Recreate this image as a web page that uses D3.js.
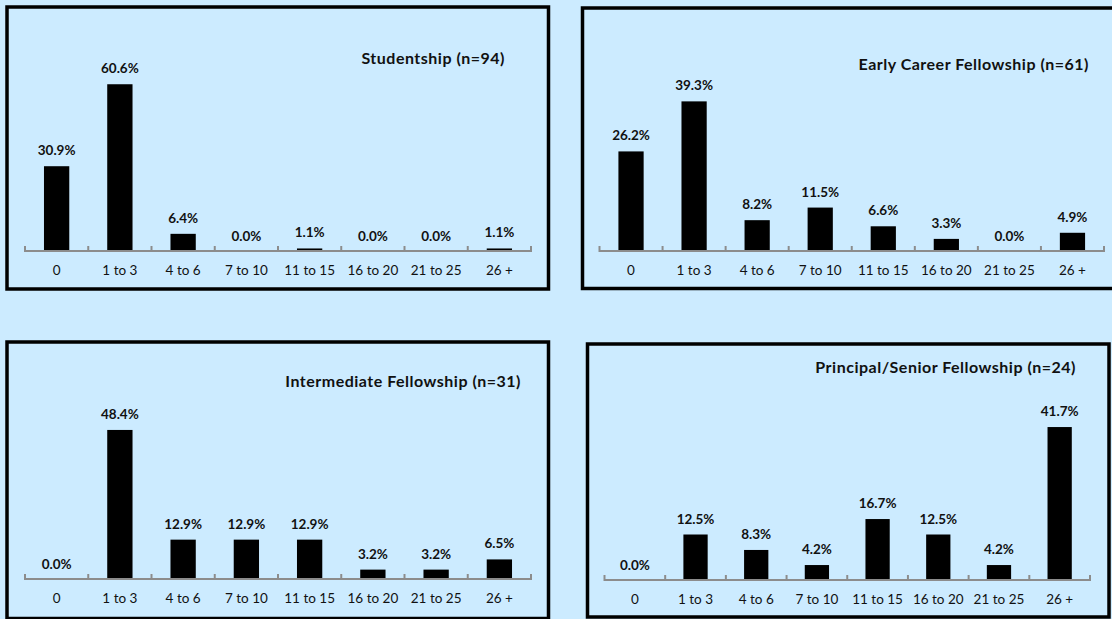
<!DOCTYPE html>
<html>
<head>
<meta charset="utf-8">
<script src="https://cdn.jsdelivr.net/npm/d3@7"></script>
<style>
  html, body { margin: 0; padding: 0; background: #CCEBFF; }
  svg { display: block; }
  text { font-family: Lato, "Open Sans", sans-serif; fill: #111; }
</style>
</head>
<body>
<svg id="chart" width="1112" height="619"></svg>
<script>
// ---- data ----
const categories = ["0", "1 to 3", "4 to 6", "7 to 10", "11 to 15", "16 to 20", "21 to 25", "26 +"];
const studentship = [30.9, 60.6, 6.4, 0.0, 1.1, 0.0, 0.0, 1.1];
const earlyCareer = [26.2, 39.3, 8.2, 11.5, 6.6, 3.3, 0.0, 4.9];
const intermediate = [0.0, 48.4, 12.9, 12.9, 12.9, 3.2, 3.2, 6.5];
const principalSenior = [0.0, 12.5, 8.3, 4.2, 16.7, 12.5, 4.2, 41.7];
const panelTitles = [
  "Studentship (n=94)",
  "Early Career Fellowship (n=61)",
  "Intermediate Fellowship (n=31)",
  "Principal/Senior Fellowship (n=24)"
];
const panelSeries = [studentship, earlyCareer, intermediate, principalSenior];

// ---- layout (positions only) ----
const layout = [
  { box: [7, 7, 548.5, 289], x0: 25, x1: 531, base: 251.5, yMax: 70, top: 58.3, titleX: 505, titleY: 63.5 },
  { box: [582.5, 8, 1118, 288.5], x0: 599.5, x1: 1104, base: 251.5, yMax: 45, top: 79.6, titleX: 1089, titleY: 70 },
  { box: [7, 342, 548.5, 618.5], x0: 25, x1: 531, base: 579.5, yMax: 60, top: 394.1, titleX: 521, titleY: 387 },
  { box: [587.5, 344, 1109, 617], x0: 604.5, x1: 1090, base: 580.5, yMax: 50, top: 396.5, titleX: 1076, titleY: 373 }
];

const svg = d3.select("#chart");

layout.forEach((L, i) => {
  const values = panelSeries[i];
  const g = svg.append("g");

  // panel frame
  g.append("rect")
    .attr("x", L.box[0]).attr("y", L.box[1])
    .attr("width", L.box[2] - L.box[0]).attr("height", L.box[3] - L.box[1])
    .attr("fill", "#CCEBFF").attr("stroke", "#000").attr("stroke-width", 3.5);

  const x = d3.scaleBand().domain(categories).range([L.x0, L.x1]).padding(0);
  const y = d3.scaleLinear().domain([0, L.yMax]).range([L.base, L.top]);
  const bw = x.bandwidth() * 0.4;

  // bars
  g.selectAll("rect.bar").data(values).join("rect")
    .attr("class", "bar")
    .attr("x", (d, j) => x(categories[j]) + (x.bandwidth() - bw) / 2)
    .attr("width", bw)
    .attr("y", d => y(d))
    .attr("height", d => y(0) - y(d))
    .attr("fill", "#000");

  // value labels
  g.selectAll("text.val").data(values).join("text")
    .attr("class", "val")
    .attr("x", (d, j) => x(categories[j]) + x.bandwidth() / 2)
    .attr("y", d => y(d) - 11)
    .attr("text-anchor", "middle")
    .style("font-size", "13.5px").style("font-weight", "bold")
    .text(d => d.toFixed(1) + "%");

  // category axis
  const axisG = g.append("g").attr("transform", `translate(0,${L.base - 0.5})`);
  axisG.append("line")
    .attr("x1", L.x0).attr("x2", L.x1).attr("y1", 0).attr("y2", 0)
    .attr("stroke", "#8c8c8c").attr("stroke-width", 2);
  const tickPos = categories.map(c => x(c)).concat([L.x1]);
  axisG.selectAll("line.tick").data(tickPos).join("line")
    .attr("class", "tick")
    .attr("x1", d => d).attr("x2", d => d)
    .attr("y1", 1).attr("y2", -5)
    .attr("stroke", "#8c8c8c").attr("stroke-width", 2);
  axisG.selectAll("text.cat").data(categories).join("text")
    .attr("class", "cat")
    .attr("x", d => x(d) + x.bandwidth() / 2)
    .attr("y", 24)
    .attr("text-anchor", "middle")
    .style("font-size", "13.5px")
    .text(d => d);

  // title
  g.append("text")
    .attr("x", L.titleX).attr("y", L.titleY)
    .attr("text-anchor", "end")
    .style("font-size", "16px").style("font-weight", "bold")
    .style("letter-spacing", "0.5px")
    .text(panelTitles[i]);
});
</script>
</body>
</html>
